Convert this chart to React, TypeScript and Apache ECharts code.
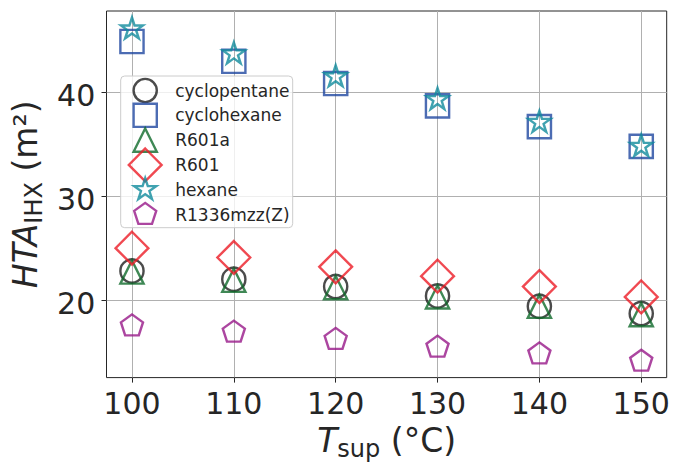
import React, { useEffect, useRef } from 'react';
import * as echarts from 'echarts';

// ---- data ----
const temperatures = [100, 110, 120, 130, 140, 150];
const cyclopentane = [22.8, 22.0, 21.3, 20.4, 19.4, 18.7];
const cyclohexane = [44.9, 43.0, 40.85, 38.7, 36.7, 34.8];
const r601a = [22.7, 21.9, 21.2, 20.3, 19.4, 18.6];
const r601 = [25.0, 24.1, 23.2, 22.3, 21.3, 20.3];
const hexane = [46.1, 43.7, 41.5, 39.3, 37.1, 34.8];
const r1336mzz = [17.5, 16.9, 16.2, 15.45, 14.8, 14.1];
const seriesNames = ['cyclopentane', 'cyclohexane', 'R601a', 'R601', 'hexane', 'R1336mzz(Z)'];
const xTicks = [100, 110, 120, 130, 140, 150];
const yTicks = [20, 30, 40];

// ---- styles ----
const FONT = 'DejaVu Sans';
const TEXT = '#262626';
const COLORS = ['#1e1e1e', '#1f47a0', '#0f6a2b', '#ec1c26', '#108b9c', '#971888'];
const MS = 23.2;
const LW = 2.4;

const STAR =
  'path://M0,-1L0.2245,-0.309L0.9511,-0.309L0.3633,0.118L0.5878,0.809L0,0.382L-0.5878,0.809L-0.3633,0.118L-0.9511,-0.309L-0.2245,-0.309Z';
const PENT = 'path://M0,-1L0.9511,-0.309L0.5878,0.809L-0.5878,0.809L-0.9511,-0.309Z';

// legend icons drawn in a 50x36 frame (centre 25,18), padded so all keep their real size
const PAD = 'path://M0,0M50,36';
const LEGEND_ICONS = [
  PAD + 'M13.4,18A11.6,11.6,0,1,1,36.6,18A11.6,11.6,0,1,1,13.4,18Z',
  PAD + 'M13.4,6.4L36.6,6.4L36.6,29.6L13.4,29.6Z',
  PAD + 'M25,6.4L36.6,29.6L13.4,29.6Z',
  PAD + 'M25,1.6L41.4,18L25,34.4L8.6,18Z',
  PAD +
    'M25,6.4L27.6,14.4L36.03,14.4L29.21,19.37L31.82,27.38L25,22.43L18.18,27.38L20.79,19.37L13.97,14.4L22.4,14.4Z',
  PAD + 'M25,6.4L36.03,14.4L31.82,27.38L18.18,27.38L13.97,14.4Z',
];

const symbols: any[] = [
  { symbol: 'circle', size: MS, offset: [0, 0] },
  { symbol: 'rect', size: MS, offset: [0, 0] },
  { symbol: 'triangle', size: [MS, MS], offset: [0, 0] },
  { symbol: 'diamond', size: MS * Math.SQRT2, offset: [0, 0] },
  { symbol: STAR, size: [0.9511 * MS, 0.9045 * MS], offset: [0, -0.0955 * MS * 0.5] },
  { symbol: PENT, size: [0.9511 * MS, 0.9045 * MS], offset: [0, -0.0955 * MS * 0.5] },
];

const allValues = [cyclopentane, cyclohexane, r601a, r601, hexane, r1336mzz];

export default function App() {
  const ref = useRef<HTMLDivElement>(null);

  useEffect(() => {
    if (!ref.current) return;
    const chart = echarts.init(ref.current, undefined, { renderer: 'svg' });

    const series = seriesNames.map((name, i) => ({
      name,
      type: 'scatter',
      data: temperatures.map((t, j) => [t, allValues[i][j]]),
      symbol: symbols[i].symbol,
      symbolSize: symbols[i].size,
      symbolOffset: symbols[i].offset,
      itemStyle: { color: 'transparent', borderColor: COLORS[i], borderWidth: LW },
      emphasis: { disabled: true },
      silent: true,
      z: 2,
    }));

    const nameRich = {
      i: { fontFamily: FONT, fontStyle: 'italic', fontSize: 33, lineHeight: 42, color: TEXT },
      s: { fontFamily: FONT, fontSize: 24, lineHeight: 24, verticalAlign: 'bottom', color: TEXT },
      n: { fontFamily: FONT, fontSize: 33, lineHeight: 42, color: TEXT },
    };

    chart.setOption({
      animation: false,
      grid: {
        left: 106.5,
        right: 19.3,
        top: 11,
        bottom: 84.3,
        show: true,
        borderColor: TEXT,
        borderWidth: 1,
        backgroundColor: 'transparent',
      },
      xAxis: {
        type: 'value',
        min: 97.5,
        max: 152.5,
        axisLine: { show: false },
        axisTick: {
          show: true,
          customValues: xTicks,
          length: 5,
          lineStyle: { color: TEXT, width: 1 },
        },
        axisLabel: {
          customValues: xTicks,
          margin: 11,
          fontSize: 30,
          fontFamily: FONT,
          color: TEXT,
        },
        splitLine: { show: true, lineStyle: { color: '#b0b0b0', width: 1 } },
        name: '{i|T}{s|sup}{n| (°C)}',
        nameLocation: 'middle',
        nameGap: 40.9,
        nameTextStyle: { fontFamily: FONT, fontSize: 33, color: TEXT, rich: nameRich },
      },
      yAxis: {
        type: 'value',
        min: 12.53,
        max: 47.84,
        axisLine: { show: false },
        axisTick: {
          show: true,
          customValues: yTicks,
          length: 5,
          lineStyle: { color: TEXT, width: 1 },
        },
        axisLabel: {
          customValues: yTicks,
          margin: 11.2,
          fontSize: 30,
          fontFamily: FONT,
          color: TEXT,
          verticalAlign: 'top',
          lineHeight: 7,
        },
        splitLine: { show: true, lineStyle: { color: '#b0b0b0', width: 1 } },
        name: '{i|HTA}{s|IHX}{n| (m²)}',
        nameLocation: 'middle',
        nameGap: 53.6,
        nameTextStyle: { fontFamily: FONT, fontSize: 33, color: TEXT, rich: nameRich },
      },
      legend: {
        orient: 'vertical',
        left: 119,
        top: 71.3,
        padding: 0,
        itemGap: -13.6,
        itemWidth: 50,
        itemHeight: 36,
        selectedMode: false,
        symbolKeepAspect: true,
        textStyle: { fontFamily: FONT, fontSize: 17, color: TEXT },
        data: seriesNames.map((name, i) => ({
          name,
          icon: LEGEND_ICONS[i],
          itemStyle: { color: 'transparent', borderColor: COLORS[i], borderWidth: LW },
        })),
        z: 4,
      },
      graphic: {
        elements: [
          {
            type: 'rect',
            shape: { x: 120.7, y: 76, width: 172, height: 151.7, r: 4 },
            style: { fill: 'rgba(255,255,255,0.8)', stroke: '#cccccc', lineWidth: 1 },
            z: 3,
            silent: true,
          },
        ],
      },
      series,
    });

    return () => chart.dispose();
  }, []);

  return (
    <div
      ref={ref}
      style={{ position: 'absolute', left: 0, top: 0, width: 686, height: 466 }}
    />
  );
}
